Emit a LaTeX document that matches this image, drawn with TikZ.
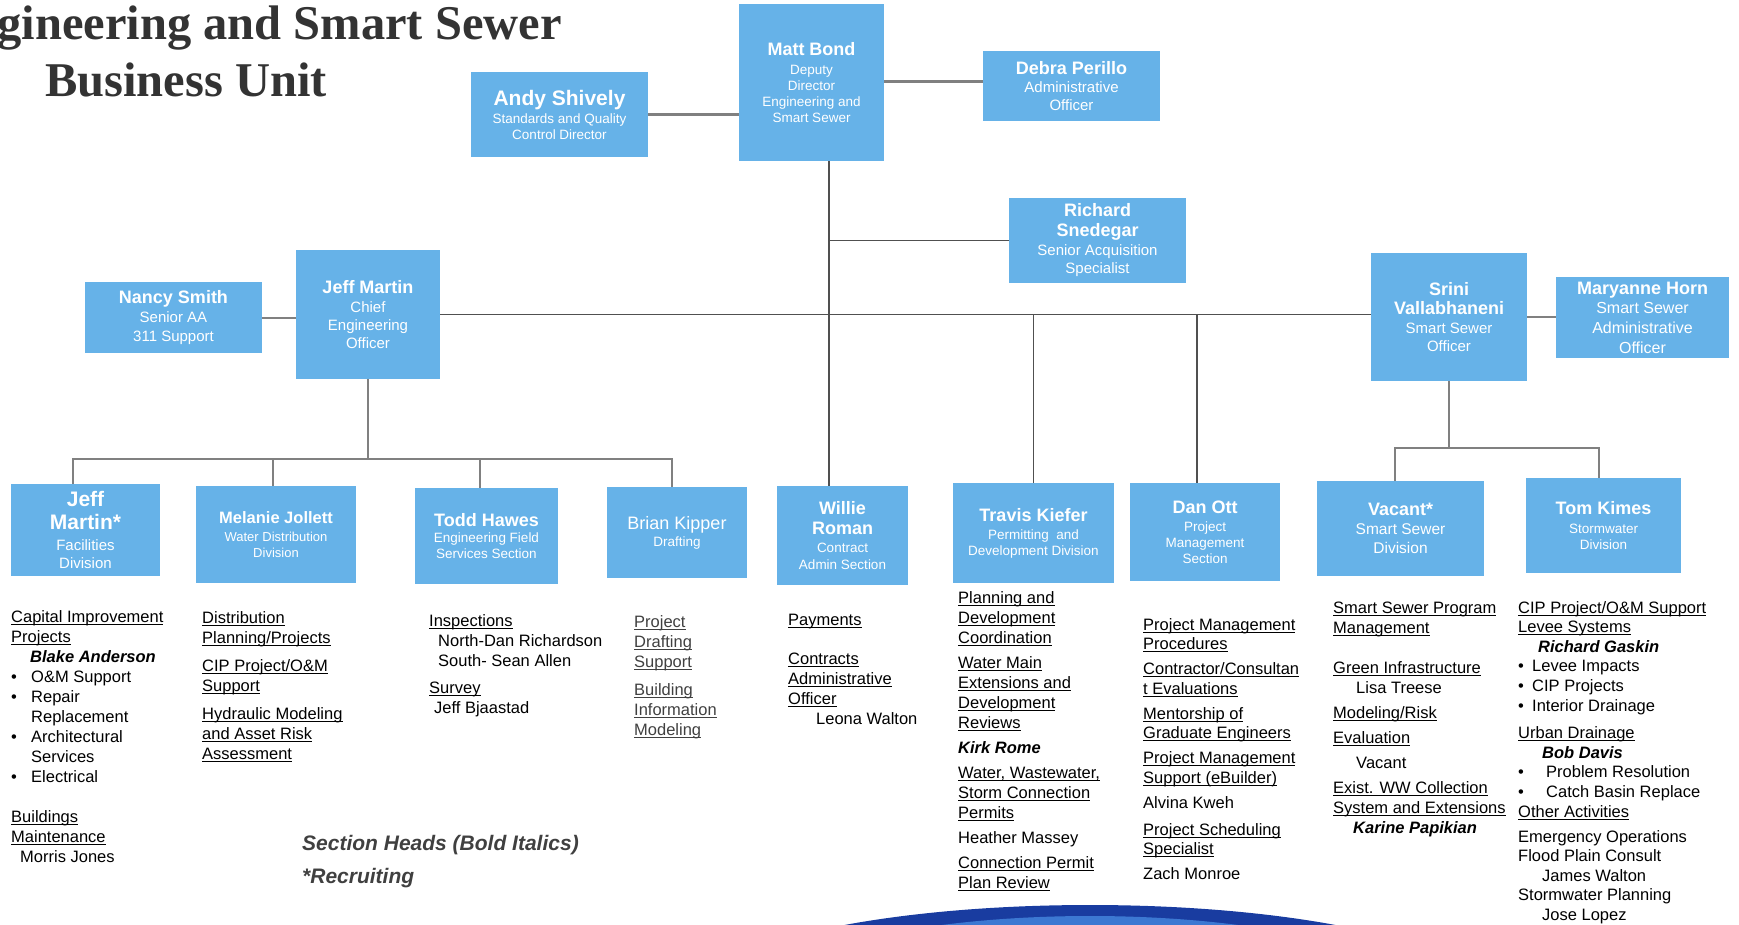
\documentclass[tikz,border=0pt]{standalone}
\usepackage{fontspec}
\setmainfont{Liberation Sans}
\newfontfamily\titlefont{Liberation Serif}
\usetikzlibrary{positioning}

\definecolor{boxblue}{RGB}{102,178,232}
\definecolor{titlegray}{RGB}{51,51,51}
\definecolor{linegray}{RGB}{128,128,128}
\definecolor{linedark}{RGB}{80,80,80}
\definecolor{notegray}{RGB}{64,64,64}
\definecolor{globeblue}{RGB}{25,60,160}
\definecolor{globelight}{RGB}{60,120,210}

% name line inside a box
\newcommand{\nm}[2][18]{{\fontsize{#1}{#1}\selectfont\bfseries #2}}
\newcommand{\ulin}[1]{\setbox0\hbox{#1}\rlap{\rule[-2.4pt]{\wd0}{0.9pt}}\box0}
\newcommand{\bi}[1]{\textbf{\textit{#1}}}
\newcommand{\bul}[2]{\makebox[#1][l]{\textbullet}#2}

\tikzset{
  box/.style={fill=boxblue, text=white, align=center, inner sep=1pt},
  sub/.style={font=\fontsize{#1}{16}\selectfont},
  link/.style={draw=linedark, line width=1.3pt},
  feed/.style={draw=linegray, line width=2pt},
  duty/.style={anchor=base west, inner sep=0pt, font=\fontsize{16.5}{20}\selectfont},
}

\begin{document}
\begin{tikzpicture}[x=1pt, y=-1pt]
    \useasboundingbox (0,0) rectangle (1739,924);

    % title
    \node[anchor=base east, inner sep=0pt, text=titlegray,
        font=\titlefont\bfseries\fontsize{48.5}{50}\selectfont] (title) at (562,39) {Engineering and Smart Sewer};
    \node[anchor=base west, inner sep=0pt, text=titlegray,
        font=\titlefont\bfseries\fontsize{48.5}{50}\selectfont] (unit) at (45,96) {Business Unit};

    % top level
    \node[box, sub=13.5, minimum width=145, minimum height=157] (matt) at (811.5,82.5)
        {\nm{Matt Bond}\\[3pt] Deputy\\ Director\\ Engineering and\\ Smart Sewer};
    \node[box, sub=13.5, minimum width=177, minimum height=85] (andy) at (559.5,114.5)
        {\nm[21]{Andy Shively}\\[2pt] Standards and Quality\\ Control Director};
    \node[box, sub=15, minimum width=177, minimum height=70] (debra) at (1071.5,86)
        {\nm{Debra Perillo}\\[2pt] Administrative\\[2pt] Officer};
    \node[box, sub=15, minimum width=177, minimum height=85] (rich) at (1097.5,240.5)
        {\nm{Richard}\\[4pt] \nm{Snedegar}\\[3pt] Senior Acquisition\\[2pt] Specialist};

    % officers
    \node[box, sub=15, minimum width=177, minimum height=71] (nancy) at (173.5,317.5)
        {\nm{Nancy Smith}\\[3pt] Senior AA\\[3pt] 311 Support};
    \node[box, sub=15, minimum width=144, minimum height=129] (jeff) at (368,314.5)
        {\nm{Jeff Martin}\\[3pt] Chief\\[2pt] Engineering\\[2pt] Officer};
    \node[box, sub=15, minimum width=156, minimum height=128] (srini) at (1449,317)
        {\nm{Srini}\\[3pt] \nm{Vallabhaneni}\\[3pt] Smart Sewer\\[2pt] Officer};
    \node[box, sub=16, minimum width=173, minimum height=81] (mary) at (1642.5,317.5)
        {\nm{Maryanne Horn}\\[3pt] Smart Sewer\\[4pt] Administrative\\[4pt] Officer};

    % divisions and sections
    \node[box, sub=15, minimum width=149, minimum height=92] (fac) at (85.5,530)
        {\nm[21]{Jeff}\\[7pt] \nm[21]{Martin*}\\[5pt] Facilities\\[2pt] Division};
    \node[box, sub=13, minimum width=160, minimum height=97] (wat) at (276,534.5)
        {\nm[16.5]{Melanie Jollett}\\[2pt] Water Distribution\\ Division};
    \node[box, sub=13.5, minimum width=143, minimum height=96] (fld) at (486.5,536)
        {\nm{Todd Hawes}\\ Engineering Field\\ Services Section};
    \node[box, sub=13.5, minimum width=140, minimum height=91] (drf) at (677,532.5)
        {{\fontsize{18}{18}\selectfont Brian Kipper}\\[1pt] Drafting};
    \node[box, sub=13.5, minimum width=131, minimum height=99] (cas) at (842.5,535.5)
        {\nm{Willie}\\[4pt] \nm{Roman}\\[2pt] Contract\\[1pt] Admin Section};
    \node[box, sub=13.5, minimum width=161, minimum height=100] (pdd) at (1033.5,533)
        {\nm{Travis Kiefer}\\[2pt] Permitting~ and\\ Development Division};
    \node[box, sub=13.5, minimum width=150, minimum height=98] (pms) at (1205,532)
        {\nm{Dan Ott}\\[2pt] Project\\ Management\\ Section};
    \node[box, sub=15.5, minimum width=167, minimum height=95] (ssd) at (1400.5,528.5)
        {\nm{Vacant*}\\[3pt] Smart Sewer\\[3pt] Division};
    \node[box, sub=13.5, minimum width=155, minimum height=95] (swd) at (1603.5,525.5)
        {\nm{Tom Kimes}\\[3pt] Stormwater\\ Division};

    % connectors
    \coordinate (trunk) at (829,0);
    \coordinate (jbar) at (0,459);
    \coordinate (sbar) at (0,448);
    \draw[feed, line width=3pt] (andy.east) -- (andy.east -| matt.west);
    \draw[feed, line width=3pt] ([yshift=5pt]debra.west -| matt.east) -- ([yshift=5pt]debra.west);
    \draw[link] (matt.south -| trunk) -- (cas.north -| trunk);
    \draw[link] (trunk |- rich.west) -- (rich.west);
    \draw[link] (jeff.east) -- (jeff.east -| srini.west);
    \draw[link] (pdd.north) -- (pdd.north |- jeff.east);
    \draw[link] ([xshift=-8pt]pms.north) -- ([xshift=-8pt]pms.north |- jeff.east);
    \draw[feed] (nancy.east) -- (nancy.east -| jeff.west);
    \draw[feed] (srini.east) -- (srini.east -| mary.west);
    \draw[feed] (jeff.south) -- (jeff.south |- jbar);
    \draw[feed] ([xshift=-13pt]fac.north) |- ([xshift=-5pt]drf.north |- jbar) -- ([xshift=-5pt]drf.north);
    \draw[feed] ([xshift=-3pt]wat.north) -- ([xshift=-3pt]wat.north |- jbar);
    \draw[feed] ([xshift=-7pt]fld.north) -- ([xshift=-7pt]fld.north |- jbar);
    \draw[feed] (srini.south) -- (srini.south |- sbar);
    \draw[feed] ([xshift=-6pt]ssd.north) |- ([xshift=-5pt]swd.north |- sbar) -- ([xshift=-5pt]swd.north);

    % duties
    \node[duty] (capital) at (11,622) {\begin{tabular}[t]{@{}l@{}}
        \ulin{Capital Improvement}\\
        \ulin{Projects}\\
        \hspace*{19pt}\bi{Blake Anderson}\\
        \bul{20pt}{O\&M Support}\\
        \bul{20pt}{Repair}\\
        \hspace*{20pt}Replacement\\
        \bul{20pt}{Architectural}\\
        \hspace*{20pt}Services\\
        \bul{20pt}{Electrical}\\
        \\
        \ulin{Buildings}\\
        \ulin{Maintenance}\\
        \hspace*{9pt}Morris Jones
    \end{tabular}};
    \node[duty] (distrib) at (202,623) {\begin{tabular}[t]{@{}l@{}}
        \ulin{Distribution}\\
        \ulin{Planning/Projects}\\[8pt]
        \ulin{CIP Project/O\&M}\\
        \ulin{Support}\\[8pt]
        \ulin{Hydraulic Modeling}\\
        \ulin{and Asset Risk}\\
        \ulin{Assessment}
    \end{tabular}};
    \node[duty] (inspect) at (429,626) {\begin{tabular}[t]{@{}l@{}}
        \ulin{Inspections}\\
        \hspace*{9pt}North-Dan Richardson\\
        \hspace*{9pt}South- Sean Allen\\[7pt]
        \ulin{Survey}\\
        \hspace*{5pt}Jeff Bjaastad
    \end{tabular}};
    \node[duty, text=notegray] (drafting) at (634,627) {\begin{tabular}[t]{@{}l@{}}
        \ulin{Project}\\
        \ulin{Drafting}\\
        \ulin{Support}\\[8pt]
        \ulin{Building}\\
        \ulin{Information}\\
        \ulin{Modeling}
    \end{tabular}};
    \node[duty] (payments) at (788,625) {\begin{tabular}[t]{@{}l@{}}
        \ulin{Payments}\\[19pt]
        \ulin{Contracts}\\
        \ulin{Administrative}\\
        \ulin{Officer}\\
        \hspace*{28pt}Leona Walton
    \end{tabular}};
    \node[duty] (permits) at (958,603) {\begin{tabular}[t]{@{}l@{}}
        \ulin{Planning and}\\
        \ulin{Development}\\
        \ulin{Coordination}\\[5pt]
        \ulin{Water Main}\\
        \ulin{Extensions and}\\
        \ulin{Development}\\
        \ulin{Reviews}\\[5pt]
        \bi{Kirk Rome}\\[5pt]
        \ulin{Water, Wastewater,}\\
        \ulin{Storm Connection}\\
        \ulin{Permits}\\[5pt]
        Heather Massey\\[5pt]
        \ulin{Connection Permit}\\
        \ulin{Plan Review}
    \end{tabular}};
    \node[duty, font=\fontsize{16.5}{19.5}\selectfont] (pmgmt) at (1143,630) {\begin{tabular}[t]{@{}l@{}}
        \ulin{Project Management}\\
        \ulin{Procedures}\\[5.5pt]
        \ulin{Contractor/Consultan}\\
        \ulin{t Evaluations}\\[5.5pt]
        \ulin{Mentorship of}\\
        \ulin{Graduate Engineers}\\[5.5pt]
        \ulin{Project Management}\\
        \ulin{Support (eBuilder)}\\[5.5pt]
        Alvina Kweh\\[7.5pt]
        \ulin{Project Scheduling}\\
        \ulin{Specialist}\\[5.5pt]
        Zach Monroe
    \end{tabular}};
    \node[duty] (sewer) at (1333,613) {\begin{tabular}[t]{@{}l@{}}
        \ulin{Smart Sewer Program}\\
        \ulin{Management}\\[20pt]
        \ulin{Green Infrastructure}\\
        \hspace*{23pt}Lisa Treese\\[5pt]
        \ulin{Modeling/Risk}\\[5pt]
        \ulin{Evaluation}\\[5pt]
        \hspace*{23pt}Vacant\\[5pt]
        \ulin{Exist. WW Collection}\\
        \ulin{System and Extensions}\\
        \hspace*{20pt}\bi{Karine Papikian}
    \end{tabular}};
    \node[duty, font=\fontsize{16.5}{19.6}\selectfont] (storm) at (1518,613) {\begin{tabular}[t]{@{}l@{}}
        \ulin{CIP Project/O\&M Support}\\
        \ulin{Levee Systems}\\
        \hspace*{20pt}\bi{Richard Gaskin}\\
        \bul{14pt}{Levee Impacts}\\
        \bul{14pt}{CIP Projects}\\
        \bul{14pt}{Interior Drainage}\\[8pt]
        \ulin{Urban Drainage}\\
        \hspace*{24pt}\bi{Bob Davis}\\
        \bul{28pt}{Problem Resolution}\\
        \bul{28pt}{Catch Basin Replace}\\
        \ulin{Other Activities}\\[5.5pt]
        Emergency Operations\\
        Flood Plain Consult\\
        \hspace*{24pt}James Walton\\
        Stormwater Planning\\
        \hspace*{24pt}Jose Lopez
    \end{tabular}};

    % legend
    \node[anchor=base west, inner sep=0pt, text=notegray,
        font=\fontsize{21}{25}\selectfont\bfseries\itshape] (legend) at (302,850) {Section Heads (Bold Italics)};
    \node[anchor=base west, inner sep=0pt, text=notegray,
        font=\fontsize{21}{25}\selectfont\bfseries\itshape] (recruit) at (302,883) {*Recruiting};

    % logo edge at the bottom
    \begin{scope}
        \clip (0,0) rectangle (1739,924);
        \fill[globeblue] (1090,1000) ellipse [x radius=400, y radius=95];
        \fill[globelight] (1090,1012) ellipse [x radius=350, y radius=96];
    \end{scope}
\end{tikzpicture}
\end{document}
